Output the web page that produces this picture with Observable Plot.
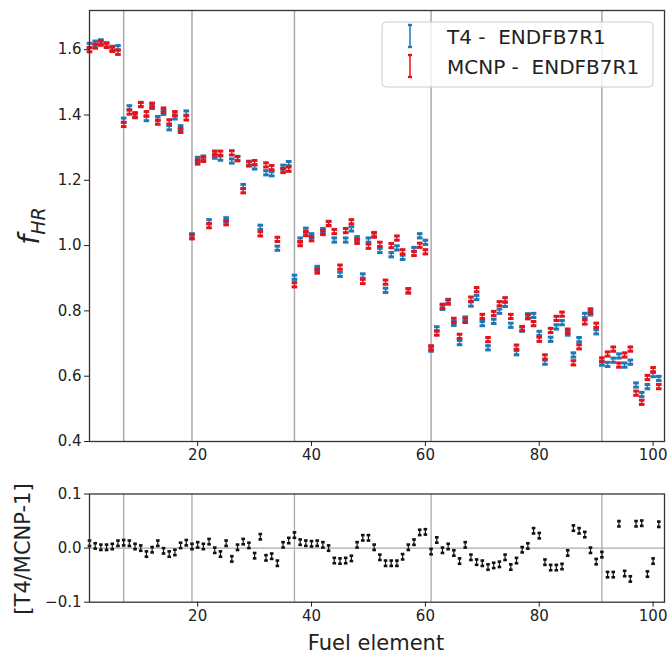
<!DOCTYPE html>
<html><head><meta charset="utf-8">
<script src="https://cdn.jsdelivr.net/npm/d3@7"></script>
<script src="https://cdn.jsdelivr.net/npm/@observablehq/plot@0.6"></script>
<style>
body{margin:0;background:#fff;font-family:"DejaVu Sans",sans-serif;}
#wrap{position:relative;width:669px;height:657px;overflow:hidden;}
#wrap > svg{position:absolute;left:0;}
</style></head><body><div id="wrap"></div>
<script>
// ---- data ----
const fuelElements = [1,2,3,4,5,6,7,8,9,10,11,12,13,14,15,16,17,18,19,20,21,22,23,24,25,26,27,28,29,30,
31,32,33,34,35,36,37,38,39,40,41,42,43,44,45,46,47,48,49,50,51,52,53,54,55,56,57,58,59,60,
61,62,63,64,65,66,67,68,69,70,71,72,73,74,75,76,77,78,79,80,81,82,83,84,85,86,87,88,89,90,
91,92,93,94,95,96,97,98,99,100,101];
const fHR_T4 = [
1.613,1.620,1.624,1.615,1.604,1.606,1.384,1.422,1.401,1.432,
1.389,1.426,1.389,1.408,1.361,1.394,1.361,1.406,1.030,1.264,
1.268,1.073,1.274,1.268,1.079,1.259,1.267,1.181,1.252,1.241,
1.056,1.223,1.220,0.992,1.240,1.251,0.903,1.017,1.047,1.030,
0.930,1.046,1.067,1.017,0.912,1.017,1.051,1.021,0.907,1.017,
1.034,0.985,0.863,0.972,0.993,0.964,0.862,0.988,1.030,1.010,
0.683,0.745,0.811,0.829,0.762,0.703,0.775,0.821,0.841,0.761,
0.687,0.768,0.799,0.820,0.756,0.672,0.744,0.785,0.786,0.731,
0.643,0.713,0.751,0.764,0.732,0.665,0.712,0.786,0.794,0.736,
0.640,0.636,0.649,0.662,0.634,0.643,0.573,0.544,0.568,0.605,
0.593];
const fHR_MCNP = [
1.600,1.611,1.620,1.613,1.601,1.592,1.371,1.409,1.398,1.432,
1.404,1.430,1.378,1.415,1.379,1.404,1.353,1.391,1.027,1.256,
1.264,1.061,1.283,1.283,1.070,1.284,1.266,1.168,1.250,1.254,
1.036,1.247,1.239,1.019,1.230,1.234,0.880,1.006,1.037,1.021,
0.922,1.040,1.068,1.043,0.934,1.046,1.073,1.013,0.890,0.998,
1.032,1.004,0.888,1.000,1.023,0.981,0.861,0.976,1.001,0.981,
0.687,0.732,0.814,0.827,0.771,0.722,0.771,0.836,0.865,0.783,
0.712,0.792,0.822,0.834,0.783,0.689,0.746,0.782,0.761,0.713,
0.659,0.740,0.777,0.790,0.738,0.641,0.690,0.766,0.800,0.756,
0.650,0.668,0.683,0.634,0.665,0.683,0.548,0.520,0.596,0.620,
0.568];
const ratioT4MCNP = [
0.009,0.004,0.0015,0.0015,0.003,0.009,0.010,0.009,0.003,0.000,
-0.011,-0.003,0.009,-0.005,-0.011,-0.008,0.005,0.010,0.003,0.006,
0.003,0.012,-0.004,-0.011,0.009,-0.020,0.0015,0.012,0.005,-0.014,
0.021,-0.018,-0.015,-0.028,0.006,0.014,0.024,0.011,0.009,0.008,
0.009,0.006,0.000,-0.023,-0.024,-0.023,-0.019,0.006,0.019,0.019,
0.0015,-0.017,-0.028,-0.028,-0.028,-0.016,0.0015,0.011,0.029,0.030,
-0.0065,0.015,-0.004,0.003,-0.009,-0.024,0.006,-0.017,-0.026,-0.028,
-0.035,-0.032,-0.030,-0.017,-0.035,-0.023,-0.003,0.004,0.032,0.023,
-0.026,-0.036,-0.036,-0.034,-0.009,0.037,0.032,0.025,-0.004,-0.025,
-0.012,-0.049,-0.049,0.045,-0.047,-0.057,0.045,0.046,-0.048,-0.024,
0.044];
const errTop = 0.0065;    // half-height of the error bars, top panel
const errRatio = 0.005;   // half-height of the error bars, ratio panel
const ringBoundaries = [7, 19, 37, 61, 91];
const xTicks = [20, 40, 60, 80, 100];
const yTicksTop = [0.4, 0.6, 0.8, 1.0, 1.2, 1.4, 1.6];
const yTicksRatio = [-0.1, 0.0, 0.1];
const seriesNames = ["T4 -  ENDFB7R1", "MCNP -  ENDFB7R1"];
const colors = {T4: "#1f77b4", MCNP: "#e3121b", ratio: "#111"};

// ---- tables ----
const rows = fuelElements.map((el, i) => ({el, t4: fHR_T4[i], mcnp: fHR_MCNP[i], ratio: ratioT4MCNP[i]}));

const capTop = {draw(ctx){ ctx.rect(-2.8, -1.5, 5.6, 3); }};
const capRatio = {draw(ctx){ ctx.rect(-1.8, -1.3, 3.6, 2.6); }};

function errMarks(key, err, color, cap, sw) {
  return [
    Plot.ruleX(rows, {x: "el", y1: d => d[key] - err, y2: d => d[key] + err, stroke: color, strokeWidth: sw}),
    Plot.dot(rows, {x: "el", y: d => d[key] - err, symbol: cap, fill: color, stroke: "none", r: 3}),
    Plot.dot(rows, {x: "el", y: d => d[key] + err, symbol: cap, fill: color, stroke: "none", r: 3})
  ];
}

const baseStyle = {fontFamily: "DejaVu Sans, sans-serif", fontSize: "15px", color: "#222", background: "transparent", overflow: "visible"};

const topChart = Plot.plot({
  width: 669, height: 470,
  marginLeft: 89, marginRight: 5, marginTop: 10, marginBottom: 29,
  style: baseStyle,
  x: {domain: [1, 102]},
  y: {domain: [0.4, 1.72]},
  marks: [
    Plot.ruleX(ringBoundaries, {stroke: "#aaa", strokeWidth: 1.5}),
    ...errMarks("t4", errTop, colors.T4, capTop, 1.4),
    ...errMarks("mcnp", errTop, colors.MCNP, capTop, 1.4),
    Plot.frame({stroke: "#333", strokeWidth: 1.3}),
    Plot.axisX({ticks: xTicks, tickSize: 5, tickPadding: 3, label: null, fontSize: 15}),
    Plot.axisY({ticks: yTicksTop, tickSize: 5, tickPadding: 3, label: null, fontSize: 15, tickFormat: d3.format(".1f")})
  ]
});
topChart.style.top = "0px";

const ratioChart = Plot.plot({
  width: 669, height: 187,
  marginLeft: 89, marginRight: 5, marginTop: 23.5, marginBottom: 55.3,
  style: baseStyle,
  x: {domain: [1, 102]},
  y: {domain: [-0.1, 0.1]},
  marks: [
    Plot.ruleX(ringBoundaries, {stroke: "#aaa", strokeWidth: 1.3}),
    Plot.ruleY([0], {stroke: "#aaa", strokeWidth: 1.2}),
    ...errMarks("ratio", errRatio, colors.ratio, capRatio, 1.2),
    Plot.frame({stroke: "#333", strokeWidth: 1.3}),
    Plot.axisX({ticks: xTicks, tickSize: 5, tickPadding: 3, label: null, fontSize: 15}),
    Plot.axisY({ticks: yTicksRatio, tickSize: 5, tickPadding: 3, label: null, fontSize: 15, tickFormat: d3.format(".1f")})
  ]
});
ratioChart.style.top = "470px";

const wrap = document.getElementById("wrap");
wrap.appendChild(topChart);
wrap.appendChild(ratioChart);

// ---- labels and legend overlay ----
const ov = d3.select(wrap).append("svg")
  .attr("width", 669).attr("height", 657)
  .style("top", "0px").style("pointer-events", "none")
  .style("font-family", "DejaVu Sans, sans-serif");

const fl = ov.append("text")
  .attr("transform", "translate(39,226) rotate(-90)")
  .attr("text-anchor", "middle").attr("fill", "#222");
fl.append("tspan").attr("font-style", "italic").attr("font-size", 28).text("f");
fl.append("tspan").attr("font-style", "italic").attr("font-size", 19).attr("dy", 6).text("HR");

ov.append("text")
  .attr("transform", "translate(30,549) rotate(-90)")
  .attr("text-anchor", "middle").attr("font-size", 21).attr("fill", "#222")
  .text("[T4/MCNP-1]");

ov.append("text")
  .attr("x", 376).attr("y", 650)
  .attr("text-anchor", "middle").attr("font-size", 21).attr("fill", "#222")
  .text("Fuel element");

// legend
ov.append("rect").attr("x", 382).attr("y", 22).attr("width", 271).attr("height", 65)
  .attr("rx", 4).attr("fill", "rgba(255,255,255,0.8)").attr("stroke", "#ccc").attr("stroke-width", 1);
const legendColors = [colors.T4, colors.MCNP];
const legendRows = [36, 66];
seriesNames.forEach((name, i) => {
  const cy = legendRows[i], c = legendColors[i];
  ov.append("line").attr("x1", 410).attr("x2", 410).attr("y1", cy - 11).attr("y2", cy + 11)
    .attr("stroke", c).attr("stroke-width", 1.5);
  [cy - 11, cy + 11].forEach(yy => ov.append("rect").attr("x", 408).attr("y", yy - 1.2)
    .attr("width", 4).attr("height", 2.4).attr("fill", c));
  ov.append("text").attr("x", 447).attr("y", cy + 8).attr("font-size", 20).attr("fill", "#222")
    .style("white-space", "pre").attr("xml:space", "preserve").text(name);
});
</script></body></html>
